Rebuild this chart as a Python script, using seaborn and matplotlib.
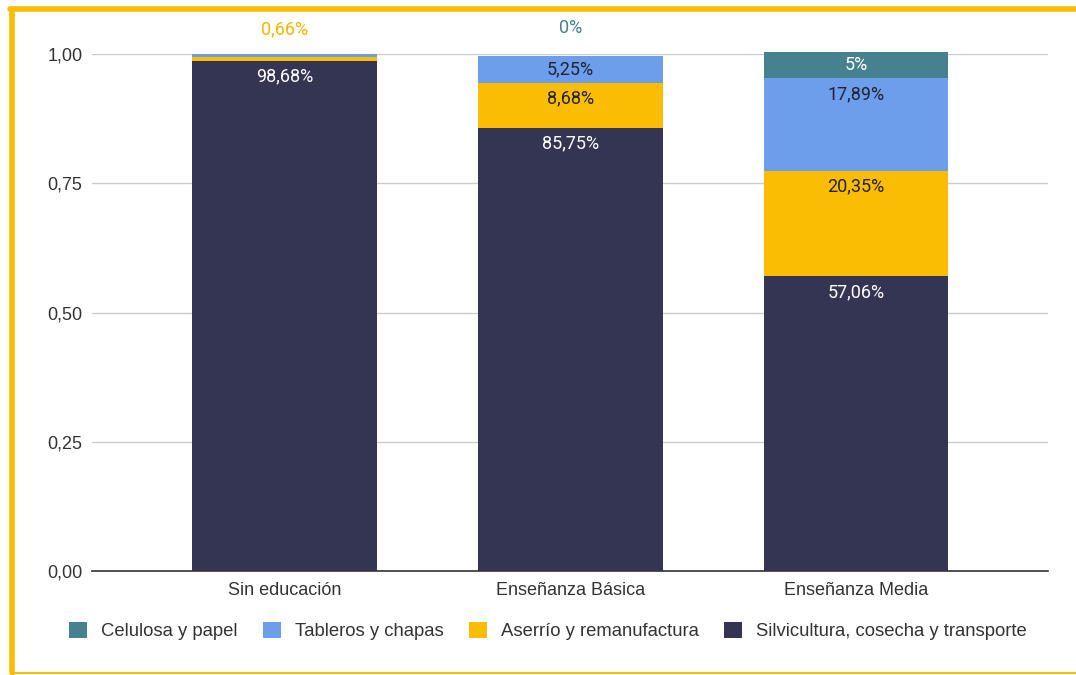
import matplotlib
matplotlib.use("Agg")
import matplotlib.pyplot as plt
import seaborn as sns
import numpy as np
from matplotlib.patches import Rectangle

categories = ["Sin educación", "Enseñanza Básica", "Enseñanza Media"]
series_names = ["Silvicultura, cosecha y transporte", "Aserrío y remanufactura",
                "Tableros y chapas", "Celulosa y papel"]
silvicultura = [98.68, 85.75, 57.06]
aserrio = [0.66, 8.68, 20.35]
tableros = [0.66, 5.25, 17.89]
celulosa = [0.0, 0.0, 5.0]
yticks = [0.0, 0.25, 0.5, 0.75, 1.0]
ytick_labels = ["0,00", "0,25", "0,50", "0,75", "1,00"]

colors = {"Silvicultura, cosecha y transporte": "#343453",
          "Aserrío y remanufactura": "#FBBC04",
          "Tableros y chapas": "#6D9EEB",
          "Celulosa y papel": "#45818E"}
label_colors = {"Silvicultura, cosecha y transporte": "white",
                "Aserrío y remanufactura": "#222222",
                "Tableros y chapas": "#222233",
                "Celulosa y papel": "white"}

sns.set_style("white")
plt.rcParams['font.family'] = ['Liberation Sans', 'DejaVu Sans']

fig = plt.figure(figsize=(10.76, 6.75), dpi=100)
ax = fig.add_axes([92/1076, 104/675, (1048-92)/1076, (571-54)/675])

data = [silvicultura, aserrio, tableros, celulosa]
bottom = np.zeros(3)
width = 0.647
px = 1.0 / 517.0
lbl_size = 13
for name, vals in zip(series_names, data):
    frac = np.array(vals) / 100.0
    sns.barplot(x=categories, y=frac, bottom=bottom, color=colors[name],
                width=width, ax=ax, saturation=1, clip_on=False, linewidth=0)
    for i, (b, h, v) in enumerate(zip(bottom, frac, vals)):
        if h * 517 >= 20:
            top = b + h
            off = min(16 * px, h / 2)
            txt = (f"{v:.2f}".replace(".", ",") if v != int(v) else f"{int(v)}") + "%"
            ax.text(i, top - off, txt, ha="center", va="center", fontsize=lbl_size,
                    color=label_colors[name], family=["Roboto", "DejaVu Sans"])
    bottom = bottom + frac

# labels above bars for tiny segments
ax.text(0, 1.0 + 25 * px, "0,66%", ha="center", va="center", fontsize=lbl_size,
        color="#F4B400", family=["Roboto", "DejaVu Sans"])
ax.text(1, 1.0 + 26 * px, "0%", ha="center", va="center", fontsize=lbl_size,
        color=colors["Celulosa y papel"], family=["Roboto", "DejaVu Sans"])

ax.set_xlim(-0.674, 2.672)
ax.set_ylim(0, 1)
ax.set_yticks(yticks)
ax.set_yticklabels(ytick_labels, fontsize=13, color="#333333")
ax.tick_params(axis="x", labelsize=13, colors="#333333", length=0, pad=8)
ax.tick_params(axis="y", length=0, pad=7)
ax.grid(axis="y", color="#cccccc", linewidth=1)
ax.set_axisbelow(True)
for s in ["top", "right", "left"]:
    ax.spines[s].set_visible(False)
ax.spines["bottom"].set_color("#333333")
ax.spines["bottom"].set_linewidth(1.2)
ax.set_xlabel("")
ax.set_ylabel("")

# legend
legend_order = ["Celulosa y papel", "Tableros y chapas", "Aserrío y remanufactura",
                "Silvicultura, cosecha y transporte"]
handles = [Rectangle((0, 0), 1, 1, facecolor=colors[n], edgecolor="none") for n in legend_order]
fig.legend(handles, legend_order, loc="center", bbox_to_anchor=(548/1076, 1 - 631/675),
           ncol=4, frameon=False, fontsize=13.3, handlelength=1.0, handleheight=1.0,
           columnspacing=1.35, handletextpad=0.75, labelcolor="#333333")

# yellow frame
frame_col = "#FBBC04"
fig.add_artist(plt.Line2D([12/1076, 12/1076], [1 - 9/675, 1 - 673/675], color=frame_col,
                          linewidth=4, transform=fig.transFigure))
fig.add_artist(plt.Line2D([10/1076, 1.0], [1 - 9/675, 1 - 9/675], color=frame_col,
                          linewidth=4, transform=fig.transFigure))
fig.add_artist(plt.Line2D([12/1076, 1.0], [1 - 673/675, 1 - 673/675], color=frame_col,
                          linewidth=1.5, transform=fig.transFigure))

fig.savefig("out.png", dpi=100)
